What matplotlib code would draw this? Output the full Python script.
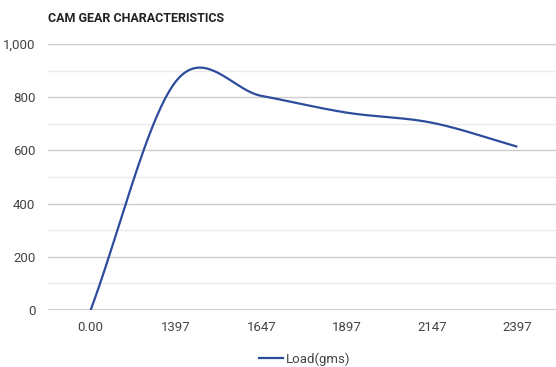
import numpy as np
import matplotlib
matplotlib.use("Agg")
import matplotlib.pyplot as plt
from matplotlib.lines import Line2D

plt.rcParams['font.family'] = ['Roboto', 'DejaVu Sans']

# Data
categories = ["0.00", "1397", "1647", "1897", "2147", "2397"]
load_gms = [0, 860, 805, 742, 704, 614]
series_name = "Load(gms)"
title = "CAM GEAR CHARACTERISTICS"

LINE_COLOR = "#2c4c9c"


def smooth_curve(xs, ys, samples=40):
    """Catmull-Rom style cubic Hermite curve through the points."""
    xs = np.asarray(xs, float)
    ys = np.asarray(ys, float)
    n = len(xs)
    m = np.zeros(n)
    for i in range(n):
        lo = max(i - 1, 0)
        hi = min(i + 1, n - 1)
        m[i] = (ys[hi] - ys[lo]) / (xs[hi] - xs[lo])
    out_x, out_y = [], []
    for i in range(n - 1):
        h = xs[i + 1] - xs[i]
        t = np.linspace(0, 1, samples, endpoint=(i == n - 2))
        h00 = 2 * t**3 - 3 * t**2 + 1
        h10 = t**3 - 2 * t**2 + t
        h01 = -2 * t**3 + 3 * t**2
        h11 = t**3 - t**2
        out_x.append(xs[i] + t * h)
        out_y.append(h00 * ys[i] + h10 * h * m[i] + h01 * ys[i + 1] + h11 * h * m[i + 1])
    return np.concatenate(out_x), np.concatenate(out_y)


fig = plt.figure(figsize=(5.56, 3.67), dpi=100)
W, H = 556, 367
ax = fig.add_axes([48 / W, 1 - 310 / H, 512 / W, (310 - 44) / H])

x = np.arange(len(categories))
cx, cy = smooth_curve(x, load_gms)
ax.plot(cx, cy, color=LINE_COLOR, lw=1.6, solid_capstyle='butt', zorder=3)

ax.set_xlim(-0.5, len(categories) - 0.5)
ax.set_ylim(0, 1000)
ax.set_yticks(np.arange(0, 1001, 200))
ax.set_yticks(np.arange(100, 1000, 200), minor=True)
ax.set_yticklabels([f"{v:,}" for v in range(0, 1001, 200)])
ax.set_xticks(x)
ax.set_xticklabels(categories)

ax.grid(axis='y', which='major', color='#cccccc', lw=1.0, zorder=0)
ax.grid(axis='y', which='minor', color='#ebebeb', lw=1.0, zorder=0)
ax.axhline(0, color='#333333', lw=1.0, zorder=2)
for s in ax.spines.values():
    s.set_visible(False)
ax.tick_params(axis='both', which='both', length=0, colors='#444444', labelsize=9.5)
ax.tick_params(axis='y', pad=9)
ax.tick_params(axis='x', pad=8)

fig.text(48 / W, 1 - 18 / H, title, fontsize=9, fontweight='bold',
         color='#222222', va='center', ha='left')

# Legend
handle = Line2D([0], [0], color=LINE_COLOR, lw=1.6)
leg = fig.legend([handle], [series_name], loc='center', bbox_to_anchor=(305 / W, 1 - 359 / H),
                 frameon=False, fontsize=9.5, handlelength=1.8, handletextpad=0.25)
for t in leg.get_texts():
    t.set_color('#444444')

fig.savefig("out.png", dpi=100)
